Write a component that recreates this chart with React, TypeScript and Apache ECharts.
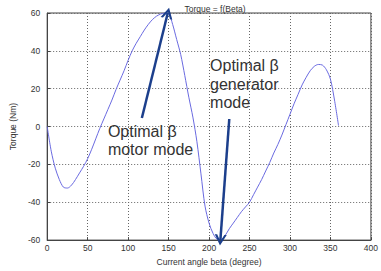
import React, { useEffect, useRef } from "react";
import * as echarts from "echarts";

const beta = [0, 5, 10, 15, 20, 25, 30, 35, 40, 45, 50, 55, 60, 65, 70, 75, 80, 85, 90, 95, 100, 105, 110, 115, 120, 125, 130, 135, 140, 145, 150, 155, 160, 165, 170, 175, 180, 185, 190, 195, 200, 205, 210, 215, 220, 225, 230, 235, 240, 245, 250, 255, 260, 265, 270, 275, 280, 285, 290, 295, 300, 305, 310, 315, 320, 325, 330, 335, 340, 345, 350, 355, 360];
const torque = [0, -13, -22, -28, -32, -32.5, -31, -28, -24.5, -21, -17, -12, -6.5, -1, 4, 9, 14, 19.5, 24.5, 29.5, 35, 40, 44, 47.5, 51, 54, 56.5, 58.3, 59.4, 60, 59.8, 54, 46, 38, 27, 15.5, 5, -8, -25, -42, -51, -56.5, -59.5, -59.7, -57.5, -54, -51, -48, -45, -42.5, -40, -36, -32, -28, -23.5, -19, -14, -9.5, -4.5, 1, 6.5, 12, 17, 22, 26, 29.5, 31.8, 32.8, 32.5, 30, 25, 14, 0.5];

const xTicks = [0, 50, 100, 150, 200, 250, 300, 350, 400];
const yTicks = [-60, -40, -20, 0, 20, 40, 60];

const arrowMotor = [[117, 4.5], [149, 60]];
const arrowGenerator = [[225, 4], [214, -60]];
const labelMotor = "Optimal β\nmotor mode";
const labelGenerator = "Optimal β\ngenerator\nmode";
const titleText = "Torque = f(Beta)";
const xName = "Current angle beta (degree)";
const yName = "Torque (Nm)";

export default function App() {
  const ref = useRef<HTMLDivElement>(null);
  useEffect(() => {
    if (!ref.current) return;
    const chart = echarts.init(ref.current, null, { renderer: "svg" });
    const font = "Liberation Sans, Arial, sans-serif";
    const chevron = "path://M0,0 L6,10 L3.6,10 L0,4 L-3.6,10 L-6,10 Z";
    chart.setOption({
      animation: false,
      backgroundColor: "#ffffff",
      title: {
        text: titleText,
        left: 210,
        textAlign: "center",
        top: -1,
        textStyle: { fontSize: 8.5, fontWeight: "normal", color: "#333", fontFamily: font },
      },
      grid: { left: 45, right: 5, top: 13, bottom: 28, show: true, borderColor: "#444", borderWidth: 1 },
      xAxis: {
        type: "value",
        min: 0,
        max: 400,
        interval: 50,
        name: xName,
        nameLocation: "middle",
        nameGap: 14,
        nameTextStyle: { fontSize: 8.5, color: "#333", fontFamily: font },
        axisLine: { show: true, onZero: false, lineStyle: { color: "#444" } },
        axisTick: { show: true, inside: true, length: 3, lineStyle: { color: "#444" } },
        axisLabel: { fontSize: 8.5, color: "#333", margin: 3, fontFamily: font, formatter: (v: number) => (xTicks.includes(v) ? String(v) : "") },
        splitLine: { show: true, lineStyle: { color: "#666", type: [1, 2], width: 1 } },
      },
      yAxis: {
        type: "value",
        min: -60,
        max: 60,
        interval: 20,
        name: yName,
        nameLocation: "middle",
        nameRotate: 90,
        nameGap: 21,
        nameTextStyle: { fontSize: 8.5, color: "#333", fontFamily: font },
        axisLine: { show: true, onZero: false, lineStyle: { color: "#444" } },
        axisTick: { show: true, inside: true, length: 3, lineStyle: { color: "#444" } },
        axisLabel: { fontSize: 8.5, color: "#333", margin: 7, fontFamily: font, formatter: (v: number) => (yTicks.includes(v) ? String(v) : "") },
        splitLine: { show: true, lineStyle: { color: "#666", type: [1, 2], width: 1 } },
      },
      series: [
        {
          type: "line",
          data: beta.map((b, i) => [b, torque[i]]),
          showSymbol: false,
          smooth: 0.3,
          lineStyle: { color: "#6a6ae0", width: 1 },
          markLine: {
            silent: true,
            symbol: ["none", chevron],
            symbolSize: [12, 11],
            symbolOffset: [0, 0],
            lineStyle: { color: "#1c3f8c", width: 2.5, type: "solid" },
            itemStyle: { color: "#1c3f8c" },
            label: { show: false },
            data: [
              [{ coord: arrowMotor[0] }, { coord: arrowMotor[1] }],
              [{ coord: arrowGenerator[0] }, { coord: arrowGenerator[1] }],
            ],
          },
          markPoint: {
            silent: true,
            symbol: "circle",
            symbolSize: 0,
            data: [
              {
                coord: [75, 0],
                label: { show: true, position: "right", formatter: labelMotor, fontSize: 16, lineHeight: 18, color: "#333", fontFamily: font, align: "left", offset: [-5, 14] },
              },
              {
                coord: [200, 25],
                label: { show: true, position: "right", formatter: labelGenerator, fontSize: 16, lineHeight: 18.5, color: "#333", fontFamily: font, align: "left", offset: [-4, 5] },
              },
            ],
          },
        },
      ],
    });
    return () => chart.dispose();
  }, []);
  return <div ref={ref} style={{ position: "fixed", left: 0, top: 0, width: 381, height: 271 }} />;
}
